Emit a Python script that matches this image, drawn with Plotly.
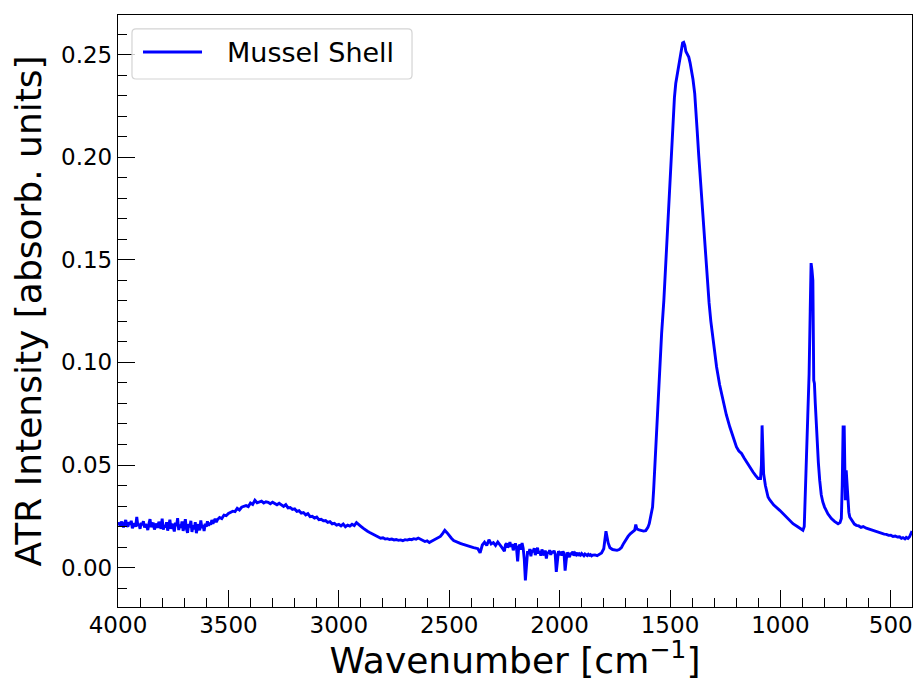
import plotly.graph_objects as go

# ATR-FTIR spectrum of a mussel shell (wavenumber in cm^-1, absorbance in a.u.)
wavenumber = [
    4000, 3995, 3990, 3985, 3980, 3975, 3970, 3965, 3960, 3955,
    3950, 3945, 3940, 3935, 3930, 3925, 3920, 3915, 3910, 3905,
    3900, 3895, 3890, 3885, 3880, 3875, 3870, 3865, 3860, 3855,
    3850, 3845, 3840, 3835, 3830, 3825, 3820, 3815, 3810, 3805,
    3800, 3795, 3790, 3785, 3780, 3775, 3770, 3765, 3760, 3755,
    3750, 3745, 3740, 3735, 3730, 3725, 3720, 3715, 3710, 3705,
    3700, 3695, 3690, 3685, 3680, 3675, 3670, 3665, 3660, 3655,
    3650, 3645, 3640, 3635, 3630, 3625, 3620, 3615, 3610, 3605,
    3600, 3595, 3590, 3585, 3580, 3575, 3570, 3565, 3560, 3555,
    3550, 3540, 3530, 3520, 3510, 3500, 3490, 3480, 3470, 3460,
    3450, 3440, 3430, 3420, 3410, 3400, 3390, 3380, 3370, 3360,
    3350, 3340, 3330, 3320, 3310, 3300, 3290, 3280, 3270, 3260,
    3250, 3240, 3230, 3220, 3210, 3200, 3190, 3180, 3170, 3160,
    3150, 3140, 3130, 3120, 3110, 3100, 3090, 3080, 3070, 3060,
    3050, 3040, 3030, 3020, 3010,
    3000, 2990, 2980, 2970, 2960, 2950, 2940, 2930, 2920, 2910,
    2900, 2890, 2880, 2870, 2860, 2850, 2840, 2830, 2820, 2810,
    2800, 2790, 2780, 2770, 2760, 2750, 2740, 2730, 2720, 2710,
    2700, 2690, 2680, 2670, 2660, 2650, 2640, 2630, 2620, 2610,
    2600, 2590, 2580, 2570, 2560, 2550, 2540, 2530, 2520, 2510,
    2500, 2490, 2480, 2470, 2460, 2450, 2440, 2430, 2420, 2410,
    2400, 2390, 2380, 2370, 2360, 2350, 2340, 2330, 2320, 2310,
    2300, 2290, 2280, 2270, 2260,
    2250, 2245, 2240, 2235, 2230, 2225, 2220, 2215, 2210, 2205,
    2200, 2195, 2190, 2185, 2180, 2175, 2170, 2165, 2160, 2155,
    2150, 2145, 2140, 2135, 2130, 2125, 2120, 2115, 2110, 2105,
    2100, 2095, 2090, 2085, 2080, 2075, 2070, 2065, 2060, 2055,
    2050, 2045, 2040, 2035, 2030, 2025, 2020, 2015, 2010, 2005,
    2000, 1995, 1990, 1985, 1980, 1975, 1970, 1965, 1960, 1955,
    1950, 1945, 1940, 1935, 1930, 1925, 1920, 1915, 1910, 1905,
    1900, 1895, 1890, 1885, 1880, 1875, 1870, 1865, 1860, 1855,
    1850, 1840, 1830, 1820, 1810, 1800, 1790, 1780, 1772, 1760,
    1750, 1740, 1730, 1720, 1710, 1700, 1690, 1680, 1670, 1660,
    1655, 1650, 1640, 1630, 1620, 1610, 1600, 1594, 1585, 1579,
    1574, 1569, 1562, 1554, 1546, 1538, 1528, 1520, 1513, 1505,
    1498, 1492, 1486, 1480, 1474, 1468, 1463, 1457, 1452, 1447,
    1443, 1438, 1433, 1428, 1425, 1420, 1415, 1409, 1403, 1396,
    1388, 1382, 1377, 1370, 1362, 1355, 1347, 1340, 1332, 1323,
    1315, 1308, 1298, 1289, 1275, 1260, 1245, 1229, 1214, 1199,
    1188, 1176, 1165, 1154, 1140, 1124, 1112, 1101, 1090, 1086,
    1083, 1080, 1076, 1068, 1056, 1048, 1030, 1003, 980, 960,
    943, 920, 898, 892, 886, 882, 876, 870, 865, 861,
    857, 853, 849, 846, 842, 838, 834, 828, 822, 815,
    808, 800, 785, 769, 755, 739, 730, 724, 720, 716,
    711, 708, 706, 702, 699, 696, 690, 686, 675, 665,
    656, 645, 635, 625, 611, 600, 590, 580, 565, 555,
    540, 530, 520, 510, 500, 490, 480, 470, 460, 452,
    445, 436, 430, 422, 415, 410, 404,
]

absorbance = [
    0.0208, 0.0219, 0.0201, 0.0224, 0.0213, 0.0196, 0.0218, 0.0232, 0.0207, 0.0199,
    0.0221, 0.0210, 0.0228, 0.0192, 0.0205, 0.0216, 0.0199, 0.0247, 0.0203, 0.0212,
    0.0189, 0.0218, 0.0207, 0.0226, 0.0195, 0.0211, 0.0202, 0.0183, 0.0214, 0.0236,
    0.0198, 0.0207, 0.0219, 0.0186, 0.0204, 0.0215, 0.0193, 0.0224, 0.0201, 0.0190,
    0.0238, 0.0185, 0.0207, 0.0196, 0.0221, 0.0180, 0.0205, 0.0233, 0.0189, 0.0214,
    0.0198, 0.0176, 0.0219, 0.0202, 0.0241, 0.0183, 0.0210, 0.0194, 0.0225, 0.0179,
    0.0203, 0.0236, 0.0188, 0.0169, 0.0212, 0.0197, 0.0228, 0.0174, 0.0206, 0.0186,
    0.0221, 0.0168, 0.0199, 0.0211, 0.0181, 0.0230, 0.0193, 0.0208, 0.0178, 0.0214,
    0.0199, 0.0226, 0.0204, 0.0218, 0.0209, 0.0232, 0.0214, 0.0227, 0.0238, 0.0221,
    0.0233, 0.0244, 0.0239, 0.0256, 0.0253, 0.0264, 0.0268, 0.0275, 0.0273, 0.0289,
    0.0281, 0.0294, 0.0299, 0.0302, 0.0297, 0.0315, 0.0308, 0.0328, 0.0316, 0.0320,
    0.0324, 0.0315, 0.0321, 0.0318, 0.0311, 0.0319, 0.0312, 0.0306, 0.0313, 0.0305,
    0.0298, 0.0307, 0.0291, 0.0293, 0.0284, 0.0286, 0.0274, 0.0277, 0.0265, 0.0268,
    0.0257, 0.0263, 0.0248, 0.0250, 0.0241, 0.0246, 0.0233, 0.0235, 0.0228, 0.0229,
    0.0220, 0.0224, 0.0213, 0.0216, 0.0207,
    0.0211, 0.0203, 0.0212, 0.0199, 0.0207, 0.0202, 0.0211, 0.0205, 0.0219, 0.0208,
    0.0201, 0.0192, 0.0183, 0.0177, 0.0171, 0.0166, 0.0159, 0.0153, 0.0148, 0.0143,
    0.0145, 0.0139, 0.0141, 0.0137, 0.0139, 0.0135, 0.0137, 0.0133, 0.0135, 0.0131,
    0.0136, 0.0134, 0.0138, 0.0136, 0.0141, 0.0138, 0.0144, 0.0139, 0.0133, 0.0127,
    0.0130, 0.0122, 0.0128, 0.0133, 0.0140, 0.0145, 0.0152, 0.0166, 0.0182, 0.0170,
    0.0155, 0.0143, 0.0132, 0.0126, 0.0121, 0.0118, 0.0114, 0.0110, 0.0106, 0.0102,
    0.0100, 0.0097, 0.0095, 0.0092, 0.0072, 0.0110, 0.0124, 0.0108, 0.0136, 0.0115,
    0.0122, 0.0108, 0.0125, 0.0112, 0.0096,
    0.0080, 0.0112, 0.0118, 0.0098, 0.0106, 0.0124, 0.0101, 0.0115, 0.0084, 0.0109,
    0.0118, 0.0092, 0.0030, 0.0101, 0.0112, 0.0087, 0.0120, 0.0095, 0.0042, -0.0062,
    0.0028, 0.0080, 0.0066, 0.0091, 0.0055, 0.0087, 0.0075, 0.0095, 0.0061, 0.0082,
    0.0097, 0.0069, 0.0080, 0.0058, 0.0088, 0.0072, 0.0060, 0.0083, 0.0044, 0.0076,
    0.0068, 0.0085, 0.0062, 0.0079, 0.0071, 0.0083, 0.0066, -0.0021, 0.0052, 0.0080,
    0.0069, 0.0076, 0.0058, 0.0079, 0.0070, -0.0015, 0.0038, 0.0074, 0.0063, 0.0051,
    0.0072, 0.0064, 0.0078, 0.0059, 0.0070, 0.0063, 0.0072, 0.0058, 0.0066, 0.0061,
    0.0069, 0.0062, 0.0058, 0.0066, 0.0063, 0.0059, 0.0065, 0.0060, 0.0063, 0.0057,
    0.0061, 0.0062, 0.0058, 0.0063, 0.0071, 0.0092, 0.0177, 0.0120, 0.0097, 0.0088,
    0.0085, 0.0084, 0.0088, 0.0098, 0.0118, 0.0138, 0.0152, 0.0165, 0.0176, 0.0182,
    0.0210, 0.0188, 0.0184, 0.0181, 0.0178, 0.0180, 0.0196, 0.0214, 0.0260, 0.0295,
    0.0380, 0.0490, 0.0650, 0.0815, 0.0980, 0.1140, 0.1300, 0.1470, 0.1644, 0.1810,
    0.1969, 0.2090, 0.2212, 0.2290, 0.2359, 0.2395, 0.2424, 0.2455, 0.2488, 0.2525,
    0.2557, 0.2560, 0.2545, 0.2515, 0.2508, 0.2500, 0.2488, 0.2460, 0.2424, 0.2380,
    0.2310, 0.2230, 0.2131, 0.2010, 0.1887, 0.1750, 0.1611, 0.1500, 0.1384, 0.1290,
    0.1200, 0.1140, 0.1055, 0.0978, 0.0890, 0.0815, 0.0745, 0.0685, 0.0632, 0.0588,
    0.0568, 0.0556, 0.0535, 0.0515, 0.0490, 0.0466, 0.0448, 0.0434, 0.0434, 0.0500,
    0.0693, 0.0600, 0.0458, 0.0400, 0.0344, 0.0330, 0.0305, 0.0279, 0.0255, 0.0233,
    0.0214, 0.0198, 0.0182, 0.0200, 0.0360, 0.0539, 0.0740, 0.0945, 0.1250, 0.1484,
    0.1450, 0.1400, 0.0913, 0.0897, 0.0800, 0.0700, 0.0620, 0.0510, 0.0425, 0.0355,
    0.0320, 0.0295, 0.0262, 0.0239, 0.0225, 0.0214, 0.0220, 0.0239, 0.0400, 0.0685,
    0.0685, 0.0400, 0.0328, 0.0474, 0.0420, 0.0328, 0.0270, 0.0247, 0.0225, 0.0212,
    0.0206, 0.0203, 0.0196, 0.0200, 0.0192, 0.0188, 0.0183, 0.0181, 0.0175, 0.0170,
    0.0168, 0.0163, 0.0162, 0.0157, 0.0158, 0.0152, 0.0154, 0.0149, 0.0150, 0.0143,
    0.0146, 0.0140, 0.0147, 0.0142, 0.0150, 0.0160, 0.0178,
]

x_ticks = [4000, 3500, 3000, 2500, 2000, 1500, 1000, 500]
y_ticks = [0.00, 0.05, 0.10, 0.15, 0.20, 0.25]
y_tick_text = ["0.00", "0.05", "0.10", "0.15", "0.20", "0.25"]
series_name = "Mussel Shell"
line_color = "#0000ff"
line_width = 2.9

FONT = "DejaVu Sans"

fig = go.Figure()
fig.add_trace(go.Scatter(
    x=wavenumber, y=absorbance, mode="lines", name=series_name,
    line=dict(color=line_color, width=line_width), showlegend=False,
))

axis_common = dict(
    showline=True, linecolor="black", linewidth=1.3, mirror=True,
    ticks="inside", ticklen=17, tickwidth=1.3, tickcolor="black",
    showgrid=False, zeroline=False,
    tickfont=dict(family=FONT, size=23, color="black"),
)

fig.update_xaxes(
    **axis_common,
    range=[4000, 404], tickvals=x_ticks, ticklabelstandoff=-3,
    minor=dict(ticks="inside", ticklen=9, tickwidth=1.1, tickcolor="black", dtick=100, tick0=0),
    title=dict(text="Wavenumber [cm<sup>\u22121</sup>]", font=dict(family=FONT, size=36, color="black"), standoff=10),
)
fig.update_yaxes(
    **axis_common,
    range=[-0.0192, 0.2693], tickvals=y_ticks, ticktext=y_tick_text,
    minor=dict(ticks="inside", ticklen=9, tickwidth=1.1, tickcolor="black", dtick=0.01, tick0=0),
    title=dict(text="ATR Intensity [absorb. units]", font=dict(family=FONT, size=36, color="black"), standoff=8),
)

# Legend box drawn in paper coordinates (rounded frame, line sample, label)
lx0, lx1, ly0, ly1 = 0.0176, 0.3703, 0.8919, 0.9764
rx, ry = 0.005, 0.0068
frame = (
    f"M {lx0 + rx},{ly0} L {lx1 - rx},{ly0} Q {lx1},{ly0} {lx1},{ly0 + ry} "
    f"L {lx1},{ly1 - ry} Q {lx1},{ly1} {lx1 - rx},{ly1} "
    f"L {lx0 + rx},{ly1} Q {lx0},{ly1} {lx0},{ly1 - ry} "
    f"L {lx0},{ly0 + ry} Q {lx0},{ly0} {lx0 + rx},{ly0} Z"
)
fig.add_shape(type="path", path=frame, xref="paper", yref="paper",
              fillcolor="rgba(255,255,255,0.8)", line=dict(color="#d4d4d4", width=1.2), layer="above")
fig.add_shape(type="line", xref="paper", yref="paper", x0=0.0315, x1=0.1058, y0=0.9375, y1=0.9375,
              line=dict(color=line_color, width=line_width), layer="above")
fig.add_annotation(text=series_name, xref="paper", yref="paper", x=0.1348, y=0.9367,
                   xanchor="left", yanchor="middle", showarrow=False,
                   font=dict(family=FONT, size=27, color="black"))

fig.update_layout(
    width=918, height=681,
    margin=dict(l=118, r=6, t=15, b=74),
    paper_bgcolor="white", plot_bgcolor="white",
    showlegend=False,
)

fig.write_html("out.html")
